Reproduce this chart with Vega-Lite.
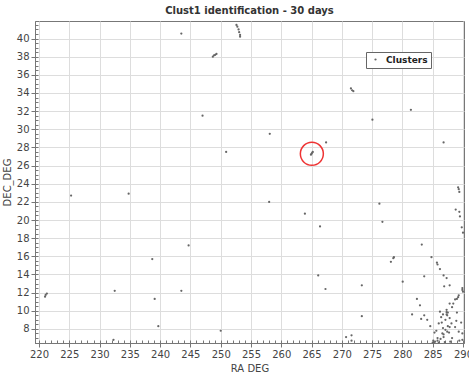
{
  "$schema": "https://vega.github.io/schema/vega-lite/v6.json",
  "width": 429,
  "height": 322,
  "autosize": {"type": "none"},
  "padding": {"left": 35, "top": 21, "right": 5, "bottom": 31},
  "background": "white",
  "title": {"text": "Clust1 identification - 30 days", "font": "DejaVu Sans", "fontSize": 10, "fontWeight": "bold", "color": "#333", "offset": 5, "anchor": "middle"},
  "config": {
    "view": {"stroke": "#777", "strokeWidth": 1},
    "axis": {"labelFont": "DejaVu Sans", "labelFontSize": 10, "labelColor": "#444", "titleFont": "DejaVu Sans", "titleFontSize": 10, "titleFontWeight": "normal", "titleColor": "#444", "tickColor": "#777", "domainColor": "#777", "gridColor": "#dddddd", "gridWidth": 1}
  },
  "datasets": {
    "pts": [
      {"ra": 221.0, "dec": 11.55}, {"ra": 221.1, "dec": 11.75}, {"ra": 221.3, "dec": 11.9},
      {"ra": 225.3, "dec": 22.7}, {"ra": 232.5, "dec": 12.2}, {"ra": 232.3, "dec": 6.8},
      {"ra": 234.8, "dec": 22.9}, {"ra": 238.7, "dec": 15.7}, {"ra": 239.1, "dec": 11.3},
      {"ra": 239.7, "dec": 8.3}, {"ra": 243.5, "dec": 40.55}, {"ra": 243.5, "dec": 12.2},
      {"ra": 244.7, "dec": 17.2}, {"ra": 247.0, "dec": 31.5}, {"ra": 248.7, "dec": 38.0},
      {"ra": 248.9, "dec": 38.15}, {"ra": 249.1, "dec": 38.2}, {"ra": 249.3, "dec": 38.3},
      {"ra": 250.0, "dec": 7.8}, {"ra": 250.9, "dec": 27.5}, {"ra": 252.6, "dec": 41.5},
      {"ra": 252.75, "dec": 41.3}, {"ra": 252.95, "dec": 41.0}, {"ra": 253.05, "dec": 40.7},
      {"ra": 253.2, "dec": 40.4}, {"ra": 253.2, "dec": 40.2}, {"ra": 258.1, "dec": 29.5},
      {"ra": 258.0, "dec": 22.0}, {"ra": 263.9, "dec": 20.7}, {"ra": 264.9, "dec": 27.2},
      {"ra": 265.0, "dec": 27.3}, {"ra": 265.1, "dec": 27.4}, {"ra": 265.2, "dec": 27.5},
      {"ra": 266.4, "dec": 19.3}, {"ra": 266.1, "dec": 13.9}, {"ra": 267.3, "dec": 12.4},
      {"ra": 267.4, "dec": 28.55}, {"ra": 270.7, "dec": 7.1}, {"ra": 271.6, "dec": 7.3},
      {"ra": 271.6, "dec": 6.7}, {"ra": 271.5, "dec": 34.5}, {"ra": 271.7, "dec": 34.3},
      {"ra": 271.9, "dec": 34.2}, {"ra": 273.3, "dec": 12.8}, {"ra": 273.3, "dec": 9.4},
      {"ra": 275.05, "dec": 31.05}, {"ra": 276.2, "dec": 21.8}, {"ra": 276.7, "dec": 19.8},
      {"ra": 278.1, "dec": 15.4}, {"ra": 278.5, "dec": 15.8}, {"ra": 278.6, "dec": 15.9},
      {"ra": 280.05, "dec": 13.2}, {"ra": 281.4, "dec": 32.15}, {"ra": 281.6, "dec": 9.6},
      {"ra": 282.4, "dec": 11.3}, {"ra": 282.9, "dec": 10.6}, {"ra": 283.1, "dec": 9.1},
      {"ra": 283.2, "dec": 17.3}, {"ra": 283.6, "dec": 13.8}, {"ra": 283.6, "dec": 9.5},
      {"ra": 284.1, "dec": 9.0}, {"ra": 284.6, "dec": 8.3}, {"ra": 284.8, "dec": 15.9},
      {"ra": 285.7, "dec": 15.3}, {"ra": 285.8, "dec": 15.1}, {"ra": 286.2, "dec": 14.6},
      {"ra": 286.8, "dec": 13.9}, {"ra": 287.3, "dec": 13.6}, {"ra": 286.9, "dec": 12.7},
      {"ra": 287.8, "dec": 12.8}, {"ra": 286.8, "dec": 28.55}, {"ra": 288.8, "dec": 21.15},
      {"ra": 289.4, "dec": 20.9}, {"ra": 289.5, "dec": 20.4}, {"ra": 289.8, "dec": 19.2},
      {"ra": 290.0, "dec": 18.6}, {"ra": 289.2, "dec": 23.6}, {"ra": 289.3, "dec": 23.4},
      {"ra": 289.4, "dec": 23.1}, {"ra": 289.9, "dec": 12.5}, {"ra": 289.9, "dec": 12.3},
      {"ra": 290.0, "dec": 12.1}, {"ra": 289.3, "dec": 11.7}, {"ra": 289.2, "dec": 11.5},
      {"ra": 289.0, "dec": 11.3}, {"ra": 288.7, "dec": 11.25}, {"ra": 288.4, "dec": 10.8},
      {"ra": 288.2, "dec": 10.4}, {"ra": 287.8, "dec": 10.8}, {"ra": 287.3, "dec": 10.1},
      {"ra": 287.3, "dec": 9.85}, {"ra": 286.2, "dec": 9.9}, {"ra": 286.4, "dec": 9.3},
      {"ra": 286.7, "dec": 9.6}, {"ra": 287.3, "dec": 9.6}, {"ra": 287.4, "dec": 9.5},
      {"ra": 287.5, "dec": 9.8}, {"ra": 287.1, "dec": 9.0}, {"ra": 287.8, "dec": 9.2},
      {"ra": 288.1, "dec": 8.6}, {"ra": 287.5, "dec": 8.3}, {"ra": 287.8, "dec": 8.2},
      {"ra": 288.7, "dec": 8.2}, {"ra": 289.7, "dec": 8.7}, {"ra": 289.3, "dec": 7.7},
      {"ra": 289.9, "dec": 7.5}, {"ra": 286.7, "dec": 8.1}, {"ra": 287.1, "dec": 7.9},
      {"ra": 287.4, "dec": 7.7}, {"ra": 287.7, "dec": 7.6}, {"ra": 286.6, "dec": 7.5},
      {"ra": 286.8, "dec": 7.4}, {"ra": 285.6, "dec": 7.8}, {"ra": 285.3, "dec": 7.6},
      {"ra": 285.8, "dec": 7.0}, {"ra": 286.3, "dec": 6.9}, {"ra": 285.1, "dec": 6.7},
      {"ra": 285.4, "dec": 6.6}, {"ra": 285.8, "dec": 6.7}, {"ra": 287.9, "dec": 6.6},
      {"ra": 289.4, "dec": 6.7}, {"ra": 289.9, "dec": 6.8}, {"ra": 286.8, "dec": 7.1},
      {"ra": 285.0, "dec": 6.5}, {"ra": 285.2, "dec": 6.5}, {"ra": 286.0, "dec": 6.5},
      {"ra": 287.0, "dec": 6.55}, {"ra": 288.2, "dec": 7.0}, {"ra": 288.9, "dec": 8.9},
      {"ra": 286.0, "dec": 8.6}, {"ra": 286.5, "dec": 8.7}, {"ra": 289.0, "dec": 9.8}
    ],
    "circ": [{"ra": 265.05, "dec": 27.3}]
  },
  "layer": [
    {
      "data": {"name": "pts"},
      "mark": {"type": "point", "filled": true, "size": 5, "opacity": 1},
      "encoding": {
        "x": {"field": "ra", "type": "quantitative", "scale": {"domain": [219.34, 290.17], "nice": false, "zero": false},
          "axis": {"values": [220, 225, 230, 235, 240, 245, 250, 255, 260, 265, 270, 275, 280, 285, 290], "title": "RA DEG", "grid": true, "tickSize": 4, "labelPadding": 2, "titlePadding": 4, "orient": "bottom"}},
        "y": {"field": "dec", "type": "quantitative", "scale": {"domain": [6.45, 41.93], "nice": false, "zero": false},
          "axis": {"values": [8, 10, 12, 14, 16, 18, 20, 22, 24, 26, 28, 30, 32, 34, 36, 38, 40], "title": "DEC_DEG", "grid": true, "tickSize": 4, "labelPadding": 2, "titlePadding": 4, "orient": "left"}},
        "color": {"datum": "Clusters", "scale": {"range": ["#666666"]},
          "legend": {"title": null, "orient": "none", "legendX": 331, "legendY": 31, "padding": 3, "strokeColor": "#666", "fillColor": "white", "labelFont": "DejaVu Sans", "labelFontSize": 9, "labelFontWeight": "bold", "labelColor": "#222", "symbolSize": 5, "symbolType": "circle", "symbolOffset": 2, "labelOffset": 6}}
      }
    },
    {
      "data": {"name": "pts"},
      "mark": {"type": "point", "opacity": 0},
      "encoding": {
        "x": {"field": "ra", "type": "quantitative",
          "axis": {"orient": "bottom", "values": [220,221,222,223,224,225,226,227,228,229,230,231,232,233,234,235,236,237,238,239,240,241,242,243,244,245,246,247,248,249,250,251,252,253,254,255,256,257,258,259,260,261,262,263,264,265,266,267,268,269,270,271,272,273,274,275,276,277,278,279,280,281,282,283,284,285,286,287,288,289,290], "labels": false, "grid": false, "domain": false, "title": null, "tickSize": -3}},
        "y": {"field": "dec", "type": "quantitative",
          "axis": {"orient": "left", "values": [6.5,7,7.5,8,8.5,9,9.5,10,10.5,11,11.5,12,12.5,13,13.5,14,14.5,15,15.5,16,16.5,17,17.5,18,18.5,19,19.5,20,20.5,21,21.5,22,22.5,23,23.5,24,24.5,25,25.5,26,26.5,27,27.5,28,28.5,29,29.5,30,30.5,31,31.5,32,32.5,33,33.5,34,34.5,35,35.5,36,36.5,37,37.5,38,38.5,39,39.5,40,40.5,41,41.5], "labels": false, "grid": false, "domain": false, "title": null, "tickSize": -3}}
      }
    },
    {
      "data": {"name": "circ"},
      "mark": {"type": "point", "filled": false, "size": 529, "stroke": "#ee3333", "strokeWidth": 1.5, "opacity": 1},
      "encoding": {
        "x": {"field": "ra", "type": "quantitative", "axis": null},
        "y": {"field": "dec", "type": "quantitative", "axis": null}
      }
    }
  ],
  "resolve": {"axis": {"x": "independent", "y": "independent"}}
}
